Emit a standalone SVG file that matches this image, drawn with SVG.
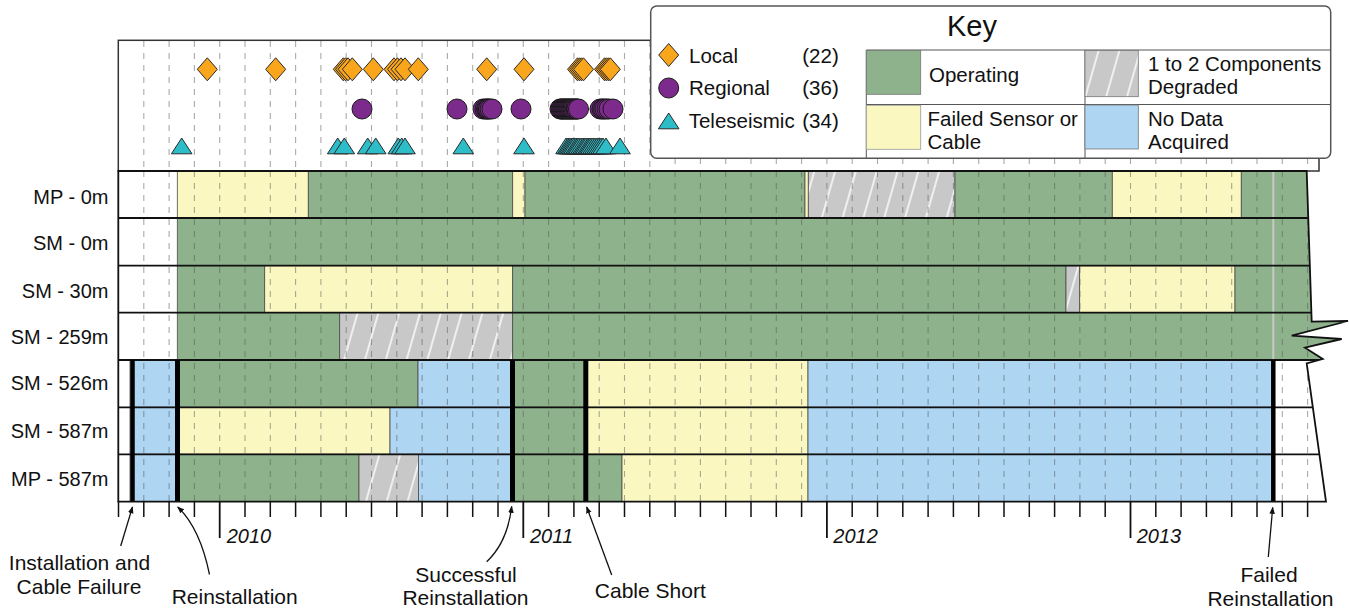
<svg xmlns="http://www.w3.org/2000/svg" xmlns:xlink="http://www.w3.org/1999/xlink" width="1349" height="612" viewBox="0 0 1349 612">
<style>
text{font-family:"Liberation Sans",Arial,sans-serif;fill:#111}
.lbl{font-size:20px;text-anchor:end}
.key{font-size:20.5px}
.ann{font-size:21px;text-anchor:middle}
.yr{font-size:20px;font-style:italic}
.g{fill:#8EB38C;stroke:#4a4a4a;stroke-width:0.8}
.y{fill:#FAF8C0;stroke:#4a4a4a;stroke-width:0.8}
.b{fill:#AED5F1;stroke:#4a4a4a;stroke-width:0.8}
.h{fill:url(#hatch);stroke:#4a4a4a;stroke-width:0.8}
.dash{fill:none;stroke:#555;stroke-opacity:0.5;stroke-width:1.1;stroke-dasharray:6 6}
.div{stroke:#111;stroke-width:1.8}
.ev{stroke:#000}
.arr{fill:none;stroke:#111;stroke-width:1.3;marker-end:url(#ah)}
</style>
<defs>
<pattern id="hatch" patternUnits="userSpaceOnUse" width="20" height="20" patternTransform="rotate(16)">
<rect width="20" height="20" fill="#C8C8C8"/>
<line x1="10" y1="0" x2="10" y2="20" stroke="#fff" stroke-width="1.6" stroke-opacity="0.9"/>
</pattern>
<clipPath id="chart"><polygon points="118.3,171 1306.7,171 1311.7,321.7 1348,321 1291.7,335.7 1341.7,339 1305,347.7 1322.7,359 1306.7,363.3 1326,501.7 118.3,501.7"/></clipPath>
<marker id="ah" viewBox="0 0 10 10" refX="9" refY="5" markerWidth="7" markerHeight="7" orient="auto" markerUnits="userSpaceOnUse"><path d="M0,1L10,5L0,9Z" fill="#111"/></marker>
<path id="dm" d="M0,-11.5L10,0L0,11.5L-10,0Z" fill="#F9A61C" stroke="#2a2a2a" stroke-width="1"/>
<circle id="ci" r="10" fill="#7C2B8D" stroke="#1a1a1a" stroke-width="1"/>
<path id="tr" d="M0,-8L10.3,7.8L-10.3,7.8Z" fill="#2DBDC9" stroke="#2a2a2a" stroke-width="1"/>
</defs>
<rect width="1349" height="612" fill="#fff"/>

<g id="event-panel">
<rect x="118.3" y="40.3" width="1200.7" height="130.7" fill="#fff" stroke="#333" stroke-width="1.5"/>
<path class="dash" d="M143.8,41V170M169.1,41V170M194.4,41V170M219.7,41V170M245,41V170M270.3,41V170M295.6,41V170M320.9,41V170M346.2,41V170M371.5,41V170M396.8,41V170M422.1,41V170M447.4,41V170M472.7,41V170M498,41V170M523.3,41V170M548.6,41V170M573.9,41V170M599.2,41V170M624.5,41V170M649.8,41V170M675.1,158V170M700.4,158V170M725.7,158V170M751,158V170M776.3,158V170M801.6,158V170M826.9,158V170M852.2,158V170M877.5,158V170M902.8,158V170M928.1,158V170M953.4,158V170M978.7,158V170M1004,158V170M1029.3,158V170M1054.6,158V170M1079.9,158V170M1105.2,158V170M1130.5,158V170M1155.8,158V170M1181.1,158V170M1206.4,158V170M1231.7,158V170M1257,158V170M1282.3,158V170M1307.6,158V170"/>
<g id="local-events">
<use href="#dm" x="207.3" y="69.3"/><use href="#dm" x="275.7" y="69.3"/><use href="#dm" x="343.3" y="69.3"/><use href="#dm" x="345.5" y="69.3"/><use href="#dm" x="348" y="69.3"/><use href="#dm" x="352.3" y="69.3"/><use href="#dm" x="373.3" y="69.3"/><use href="#dm" x="394" y="69.3"/><use href="#dm" x="397.5" y="69.3"/><use href="#dm" x="401" y="69.3"/><use href="#dm" x="405" y="69.3"/><use href="#dm" x="418.3" y="69.3"/><use href="#dm" x="486.7" y="69.3"/><use href="#dm" x="524" y="69.3"/><use href="#dm" x="577.5" y="69.3"/><use href="#dm" x="579.5" y="69.3"/><use href="#dm" x="581.5" y="69.3"/><use href="#dm" x="583.5" y="69.3"/><use href="#dm" x="604.5" y="69.3"/><use href="#dm" x="606.5" y="69.3"/><use href="#dm" x="608.5" y="69.3"/><use href="#dm" x="610.3" y="69.3"/>
</g>
<g id="regional-events">
<use href="#ci" x="362" y="109"/><use href="#ci" x="457" y="109"/><use href="#ci" x="483" y="109"/><use href="#ci" x="485" y="109"/><use href="#ci" x="486.5" y="109"/><use href="#ci" x="487.5" y="109"/><use href="#ci" x="488.5" y="109"/><use href="#ci" x="490" y="109"/><use href="#ci" x="492" y="109"/><use href="#ci" x="521" y="109"/>
<use href="#ci" x="560" y="109"/><use href="#ci" x="561" y="109"/><use href="#ci" x="562" y="109"/><use href="#ci" x="563" y="109"/><use href="#ci" x="564" y="109"/><use href="#ci" x="565" y="109"/><use href="#ci" x="566" y="109"/><use href="#ci" x="567" y="109"/><use href="#ci" x="568" y="109"/><use href="#ci" x="569" y="109"/><use href="#ci" x="570" y="109"/><use href="#ci" x="571" y="109"/><use href="#ci" x="572" y="109"/><use href="#ci" x="573" y="109"/><use href="#ci" x="574" y="109"/><use href="#ci" x="575.5" y="109"/><use href="#ci" x="576" y="109"/><use href="#ci" x="577" y="109"/><use href="#ci" x="578.5" y="109"/>
<use href="#ci" x="600" y="109"/><use href="#ci" x="602" y="109"/><use href="#ci" x="603.5" y="109"/><use href="#ci" x="605" y="109"/><use href="#ci" x="607" y="109"/><use href="#ci" x="609" y="109"/><use href="#ci" x="613" y="109"/>
</g>
<g id="teleseismic-events">
<use href="#tr" x="181.7" y="146"/><use href="#tr" x="337.7" y="146"/><use href="#tr" x="344.3" y="146"/><use href="#tr" x="367.7" y="146"/><use href="#tr" x="375.7" y="146"/><use href="#tr" x="398.3" y="146"/><use href="#tr" x="401.7" y="146"/><use href="#tr" x="405" y="146"/><use href="#tr" x="463.3" y="146"/><use href="#tr" x="524" y="146"/>
<use href="#tr" x="566" y="146"/><use href="#tr" x="568" y="146"/><use href="#tr" x="569.5" y="146"/><use href="#tr" x="571" y="146"/><use href="#tr" x="572.5" y="146"/><use href="#tr" x="574" y="146"/><use href="#tr" x="576" y="146"/><use href="#tr" x="577.5" y="146"/><use href="#tr" x="579" y="146"/><use href="#tr" x="581" y="146"/><use href="#tr" x="583" y="146"/><use href="#tr" x="584.5" y="146"/><use href="#tr" x="586" y="146"/><use href="#tr" x="588" y="146"/><use href="#tr" x="589.5" y="146"/><use href="#tr" x="591" y="146"/><use href="#tr" x="593" y="146"/><use href="#tr" x="595" y="146"/><use href="#tr" x="597" y="146"/><use href="#tr" x="599" y="146"/><use href="#tr" x="601" y="146"/><use href="#tr" x="603" y="146"/><use href="#tr" x="606" y="146"/><use href="#tr" x="620" y="146"/>
</g>
</g>

<g id="rows" clip-path="url(#chart)">
<g id="row-mp-0m">
<rect class="y" x="177.3" y="171" width="131" height="47"/>
<rect class="g" x="308.3" y="171" width="204.4" height="47"/>
<rect class="y" x="512.7" y="171" width="12.3" height="47"/>
<rect class="g" x="525" y="171" width="280" height="47"/>
<rect class="y" x="805" y="171" width="3.3" height="47"/>
<rect class="h" x="808.3" y="171" width="146.7" height="47"/>
<rect class="g" x="955" y="171" width="157.3" height="47"/>
<rect class="y" x="1112.3" y="171" width="129" height="47"/>
<rect class="g" x="1241.3" y="171" width="110" height="47"/>
</g>
<g id="row-sm-0m">
<rect class="g" x="177.3" y="218" width="1175" height="47.7"/>
</g>
<g id="row-sm-30m">
<rect class="g" x="177.3" y="265.7" width="87.4" height="47"/>
<rect class="y" x="264.7" y="265.7" width="248" height="47"/>
<rect class="g" x="512.7" y="265.7" width="553.3" height="47"/>
<rect class="h" x="1066" y="265.7" width="13.7" height="47"/>
<rect class="y" x="1079.7" y="265.7" width="155.3" height="47"/>
<rect class="g" x="1235" y="265.7" width="116" height="47"/>
</g>
<g id="row-sm-259m">
<rect class="g" x="177.3" y="312.7" width="162.4" height="47.3"/>
<rect class="h" x="339.7" y="312.7" width="173" height="47.3"/>
<rect class="g" x="512.7" y="312.7" width="840" height="47.3"/>
</g>
<line x1="1273.3" y1="171" x2="1273.3" y2="360" stroke="#c9c9c9" stroke-width="2"/>
<g id="row-sm-526m">
<rect class="b" x="130" y="360" width="47.5" height="47.3"/>
<rect class="g" x="177.5" y="360" width="240.5" height="47.3"/>
<rect class="b" x="418" y="360" width="94.5" height="47.3"/>
<rect class="g" x="512.5" y="360" width="73.3" height="47.3"/>
<rect class="y" x="585.8" y="360" width="222.2" height="47.3"/>
<rect class="b" x="808" y="360" width="465.3" height="47.3"/>
</g>
<g id="row-sm-587m">
<rect class="b" x="130" y="407.3" width="47.5" height="47"/>
<rect class="y" x="177.5" y="407.3" width="212.5" height="47"/>
<rect class="b" x="390" y="407.3" width="122.5" height="47"/>
<rect class="g" x="512.5" y="407.3" width="73.3" height="47"/>
<rect class="y" x="585.8" y="407.3" width="222.2" height="47"/>
<rect class="b" x="808" y="407.3" width="465.3" height="47"/>
</g>
<g id="row-mp-587m">
<rect class="b" x="130" y="454.3" width="47.5" height="47.4"/>
<rect class="g" x="177.5" y="454.3" width="181.5" height="47.4"/>
<rect class="h" x="359" y="454.3" width="59.5" height="47.4"/>
<rect class="b" x="418.5" y="454.3" width="94" height="47.4"/>
<rect class="g" x="512.5" y="454.3" width="73.3" height="47.4"/>
<rect class="g" x="585.8" y="454.3" width="36.2" height="47.4"/>
<rect class="y" x="622" y="454.3" width="186" height="47.4"/>
<rect class="b" x="808" y="454.3" width="465.3" height="47.4"/>
</g>
<path class="dash" d="M143.8,171V502M169.1,171V502M194.4,171V502M219.7,171V502M245,171V502M270.3,171V502M295.6,171V502M320.9,171V502M346.2,171V502M371.5,171V502M396.8,171V502M422.1,171V502M447.4,171V502M472.7,171V502M498,171V502M523.3,171V502M548.6,171V502M573.9,171V502M599.2,171V502M624.5,171V502M649.8,171V502M675.1,171V502M700.4,171V502M725.7,171V502M751,171V502M776.3,171V502M801.6,171V502M826.9,171V502M852.2,171V502M877.5,171V502M902.8,171V502M928.1,171V502M953.4,171V502M978.7,171V502M1004,171V502M1029.3,171V502M1054.6,171V502M1079.9,171V502M1105.2,171V502M1130.5,171V502M1155.8,171V502M1181.1,171V502M1206.4,171V502M1231.7,171V502M1257,171V502M1282.3,171V502M1307.6,171V502"/>
<g id="row-dividers">
<line class="div" x1="118" y1="218" x2="1349" y2="218"/>
<line class="div" x1="118" y1="265.7" x2="1349" y2="265.7"/>
<line class="div" x1="118" y1="312.7" x2="1349" y2="312.7"/>
<line class="div" x1="118" y1="360" x2="1349" y2="360"/>
<line class="div" x1="118" y1="407.3" x2="1349" y2="407.3"/>
<line class="div" x1="118" y1="454.3" x2="1349" y2="454.3"/>
</g>
<g id="event-lines">
<line class="ev" x1="132.5" y1="360" x2="132.5" y2="502" stroke-width="4.5"/>
<line class="ev" x1="177.5" y1="360" x2="177.5" y2="502" stroke-width="5"/>
<line class="ev" x1="512.5" y1="360" x2="512.5" y2="502" stroke-width="5"/>
<line class="ev" x1="585.8" y1="360" x2="585.8" y2="502" stroke-width="5"/>
<line class="ev" x1="1273.3" y1="360" x2="1273.3" y2="502" stroke-width="4.5"/>
</g>
</g>
<polygon id="chart-outline" points="118.3,171 1306.7,171 1311.7,321.7 1348,321 1291.7,335.7 1341.7,339 1305,347.7 1322.7,359 1306.7,363.3 1326,501.7 118.3,501.7" fill="none" stroke="#111" stroke-width="1.8" stroke-linejoin="miter"/>

<g id="row-labels">
<text class="lbl" x="108.5" y="203.5">MP - 0m</text>
<text class="lbl" x="108.5" y="250">SM - 0m</text>
<text class="lbl" x="108.5" y="298">SM - 30m</text>
<text class="lbl" x="108.5" y="343.5">SM - 259m</text>
<text class="lbl" x="108.5" y="390">SM - 526m</text>
<text class="lbl" x="108.5" y="438">SM - 587m</text>
<text class="lbl" x="108.5" y="485.5">MP - 587m</text>
</g>

<g id="axis">
<path fill="none" stroke="#111" stroke-width="1.5" d="M118.5,501V517M143.8,501V517M169.1,501V517M194.4,501V517M245,501V517M270.3,501V517M295.6,501V517M320.9,501V517M346.2,501V517M371.5,501V517M396.8,501V517M422.1,501V517M447.4,501V517M472.7,501V517M498,501V517M548.6,501V517M573.9,501V517M599.2,501V517M624.5,501V517M649.8,501V517M675.1,501V517M700.4,501V517M725.7,501V517M751,501V517M776.3,501V517M801.6,501V517M852.2,501V517M877.5,501V517M902.8,501V517M928.1,501V517M953.4,501V517M978.7,501V517M1004,501V517M1029.3,501V517M1054.6,501V517M1079.9,501V517M1105.2,501V517M1155.8,501V517M1181.1,501V517M1206.4,501V517M1231.7,501V517M1257,501V517M1282.3,501V517M1307.6,501V517"/>
<path fill="none" stroke="#111" stroke-width="1.8" d="M219.7,501V538M523.3,501V538M826.9,501V538M1130.5,501V538"/>
<text class="yr" x="226.7" y="543">2010</text>
<text class="yr" x="530" y="543">2011</text>
<text class="yr" x="833.3" y="543">2012</text>
<text class="yr" x="1136.7" y="543">2013</text>
</g>

<g id="connectors">
<path class="arr" d="M120.7,546L132.5,507"/>
<path class="arr" d="M209.5,574.5Q200,528 177.7,507"/>
<path class="arr" d="M486.7,561.7Q507.4,542.4 511.7,506.5"/>
<path class="arr" d="M611.7,575L586.7,507"/>
<path class="arr" d="M1268.3,557L1272.7,507.5"/>
</g>
<g id="annotations">
<text class="ann" x="79.5" y="570">Installation and</text>
<text class="ann" x="79" y="594">Cable Failure</text>
<text class="ann" x="234.7" y="604">Reinstallation</text>
<text class="ann" x="466" y="581.7">Successful</text>
<text class="ann" x="465.5" y="605">Reinstallation</text>
<text class="ann" x="650.3" y="598">Cable Short</text>
<text class="ann" x="1269" y="581.5">Failed</text>
<text class="ann" x="1270.5" y="605.5">Reinstallation</text>
</g>

<g id="key">
<rect x="650.7" y="6" width="680" height="152.3" rx="6" fill="#fff" stroke="#555" stroke-width="1.5"/>
<text x="972" y="35.5" style="font-size:29px" text-anchor="middle">Key</text>
<path d="M866.3,50H1330.7M866.3,104.5H1330.7M866.3,50V158.3M1085,50V158.3" stroke="#555" stroke-width="1" fill="none"/>
<rect x="866.3" y="50.5" width="54.4" height="43.8" fill="#8EB38C" stroke="#777" stroke-width="0.8"/>
<rect x="866.3" y="105.3" width="54.4" height="44" fill="#FAF8C0" stroke="#999" stroke-width="0.8"/>
<rect x="1085" y="50.5" width="53.3" height="46.2" fill="url(#hatch)" stroke="#777" stroke-width="0.8"/>
<rect x="1085" y="105" width="53.3" height="44" fill="#AED5F1" stroke="#777" stroke-width="0.8"/>
<text class="key" x="929" y="81.5">Operating</text>
<text class="key" x="927.5" y="126">Failed Sensor or</text>
<text class="key" x="927.5" y="148.5">Cable</text>
<text class="key" x="1148" y="71">1 to 2 Components</text>
<text class="key" x="1148" y="93.5">Degraded</text>
<text class="key" x="1148" y="126">No Data</text>
<text class="key" x="1148" y="149">Acquired</text>
<use href="#dm" x="668.7" y="55"/>
<use href="#ci" x="668.7" y="88"/>
<use href="#tr" x="668.7" y="121"/>
<text class="key" x="689" y="62.7">Local</text>
<text class="key" x="802.3" y="62.7">(22)</text>
<text class="key" x="689" y="95">Regional</text>
<text class="key" x="802.3" y="95">(36)</text>
<text class="key" x="688.7" y="128.3">Teleseismic</text>
<text class="key" x="802.3" y="128.3">(34)</text>
</g>
</svg>
